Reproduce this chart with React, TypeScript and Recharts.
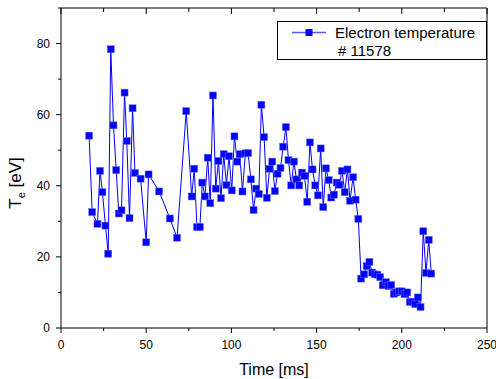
import React from "react";
import { LineChart, Line, XAxis, YAxis, Legend } from "recharts";

// time [ms] and electron temperature [eV]
const times = [
  16.5, 18.3, 21.4, 22.9, 24.3, 26.1, 27.7, 29.2, 30.8, 32.4, 33.9, 35.5, 37.3, 38.6, 40.2, 42.0, 43.4, 46.7, 50.0, 51.4,
  57.6, 63.9, 68.1, 73.5, 76.7, 78.2, 79.8, 81.5, 82.9, 84.5, 86.1, 87.6, 89.2, 90.8, 92.4, 93.9, 95.5, 97.1, 98.6, 100.2,
  101.8, 103.4, 104.9, 106.5, 108.2, 109.8, 111.4, 113.0, 114.5, 116.1, 117.6, 119.2, 120.8, 122.4, 124.0, 125.5, 127.1, 128.8, 130.4, 132.0,
  133.5, 135.1, 136.7, 138.2, 139.8, 141.4, 142.9, 144.5, 146.1, 147.6, 149.2, 150.8, 152.4, 153.9, 155.5, 157.1, 158.6, 160.2, 161.8, 163.4,
  164.9, 166.5, 168.1, 169.6, 171.4, 172.9, 174.5, 176.1, 177.9, 179.4, 181.0, 182.6, 184.1, 185.7, 187.3, 188.8, 190.6, 192.2, 193.8, 195.3,
  196.9, 198.5, 200.0, 201.6, 203.2, 204.7, 206.3, 207.9, 209.4, 211.0, 212.6, 214.2, 215.8, 217.3,
];
const temps = [
  54.1, 32.6, 29.3, 44.2, 38.2, 28.8, 20.9, 78.4, 57.0, 44.4, 32.2, 33.1, 66.2, 52.6, 30.9, 61.8, 43.6, 42.0, 24.1, 43.2,
  38.4, 30.8, 25.4, 61.0, 37.0, 44.8, 28.4, 28.4, 40.9, 37.0, 47.9, 35.1, 65.4, 39.2, 47.0, 36.5, 48.9, 40.2, 48.3, 38.7,
  53.9, 46.8, 48.9, 38.4, 49.1, 49.2, 41.8, 33.2, 39.2, 37.7, 62.8, 53.7, 36.6, 44.8, 46.8, 38.5, 43.4, 45.0, 51.0, 56.5,
  47.2, 40.1, 46.8, 41.8, 40.1, 43.7, 42.8, 35.5, 52.2, 44.6, 40.1, 37.3, 50.5, 34.0, 44.9, 41.6, 36.7, 37.5, 40.9, 40.3,
  44.2, 38.2, 44.6, 35.8, 42.4, 36.1, 30.7, 13.9, 15.1, 17.4, 18.6, 15.6, 15.1, 15.0, 14.3, 12.0, 12.9, 11.8, 12.1, 9.6,
  10.0, 10.3, 10.3, 9.5, 10.0, 7.3, 7.4, 6.7, 8.6, 5.9, 27.2, 15.5, 24.8, 15.3,
];

const xTicks = [0, 25, 50, 75, 100, 125, 150, 175, 200, 225, 250];
const yTicks = [0, 10, 20, 30, 40, 50, 60, 70, 80, 90];

const data = times.map((t, i) => ({ t, te: temps[i] }));

const font = "'Liberation Sans', Arial, sans-serif";
const blue = "#0000ff";

const BottomTick = (p: any) => {
  const major = p.payload.value % 50 === 0;
  return (
    <g>
      <line x1={p.x} x2={p.x} y1={p.y} y2={p.y + (major ? 5 : 3)} stroke="#000" />
      {major && (
        <text x={p.x} y={p.y + 21} textAnchor="middle" fontSize={12} fontFamily={font} fill="#000">
          {p.payload.value}
        </text>
      )}
    </g>
  );
};

const TopTick = (p: any) => {
  const major = p.payload.value % 50 === 0;
  return <line x1={p.x} x2={p.x} y1={p.y} y2={p.y + (major ? 6 : 4)} stroke="#000" />;
};

const LeftTick = (p: any) => {
  const major = p.payload.value % 20 === 0;
  return (
    <g>
      <line x1={p.x} x2={p.x - (major ? 5 : 3)} y1={p.y} y2={p.y} stroke="#000" />
      {major && (
        <text x={p.x - 11} y={p.y + 4} textAnchor="end" fontSize={12} fontFamily={font} fill="#000">
          {p.payload.value}
        </text>
      )}
    </g>
  );
};

const RightTick = (p: any) => {
  const major = p.payload.value % 20 === 0;
  return <line x1={p.x} x2={p.x - (major ? 6 : 4)} y1={p.y} y2={p.y} stroke="#000" />;
};

const SquareDot = (p: any) => {
  if (p.cx == null || p.cy == null) return null;
  return <rect x={p.cx - 3.5} y={p.cy - 3.5} width={7} height={7} fill={blue} stroke="#6b6bff" strokeWidth={0.5} />;
};

const LegendBox = () => (
  <svg width={211} height={40} style={{ display: "block" }}>
    <rect x={0.5} y={0.5} width={209} height={38} fill="#fff" stroke="#000" />
    <line x1={15} x2={49} y1={11.5} y2={11.5} stroke="#5a5aff" strokeWidth={1.5} />
    <rect x={28.5} y={8} width={7} height={7} fill={blue} />
    <text x={58} y={16.5} fontSize={15} fontFamily={font} fill="#000">Electron temperature</text>
    <text x={61} y={35} fontSize={15} fontFamily={font} fill="#000"># 11578</text>
  </svg>
);

export default function App() {
  return (
    <div style={{ position: "absolute", left: 0, top: 0, background: "#fff" }}>
      <LineChart width={496} height={379} data={data} margin={{ top: 7, right: 8, bottom: 0, left: 0 }}>
        <XAxis
          xAxisId="b"
          dataKey="t"
          type="number"
          domain={[0, 250]}
          ticks={xTicks}
          interval={0}
          height={51}
          tickSize={0}
          tickMargin={0}
          tickLine={false}
          axisLine={{ stroke: "#000" }}
          tick={(p: any) => <BottomTick {...p} />}
          label={{
            content: () => (
              <text x={274} y={375} textAnchor="middle" fontSize={16} fontFamily={font} fill="#000">
                Time [ms]
              </text>
            ),
          }}
        />
        <XAxis
          xAxisId="t"
          orientation="top"
          dataKey="t"
          type="number"
          domain={[0, 250]}
          ticks={xTicks}
          interval={0}
          height={1}
          tickSize={0}
          tickMargin={0}
          tickLine={false}
          axisLine={{ stroke: "#000" }}
          tick={(p: any) => <TopTick {...p} />}
        />
        <YAxis
          yAxisId="l"
          type="number"
          domain={[0, 90]}
          ticks={yTicks}
          interval={0}
          width={61}
          tickSize={0}
          tickMargin={0}
          tickLine={false}
          axisLine={{ stroke: "#000" }}
          tick={(p: any) => <LeftTick {...p} />}
          label={{
            content: () => (
              <text transform="translate(21,183) rotate(-90)" textAnchor="middle" fontSize={17} fontFamily={font} fill="#000">
                T<tspan fontSize={11} dy={4}>e</tspan>
                <tspan dy={-4}> [eV]</tspan>
              </text>
            ),
          }}
        />
        <YAxis
          yAxisId="r"
          orientation="right"
          type="number"
          domain={[0, 90]}
          ticks={yTicks}
          interval={0}
          width={1}
          tickSize={0}
          tickMargin={0}
          tickLine={false}
          axisLine={{ stroke: "#000" }}
          tick={(p: any) => <RightTick {...p} />}
        />
        <Legend
          layout="vertical"
          align="center"
          verticalAlign="middle"
          content={() => <LegendBox />}
          wrapperStyle={{ left: 277, top: 21, width: 211, height: 40 }}
        />
        <Line
          xAxisId="b"
          yAxisId="l"
          dataKey="te"
          type="linear"
          stroke={blue}
          strokeWidth={1}
          dot={(p: any) => <SquareDot key={p.index} {...p} />}
          isAnimationActive={false}
        />
      </LineChart>
    </div>
  );
}
